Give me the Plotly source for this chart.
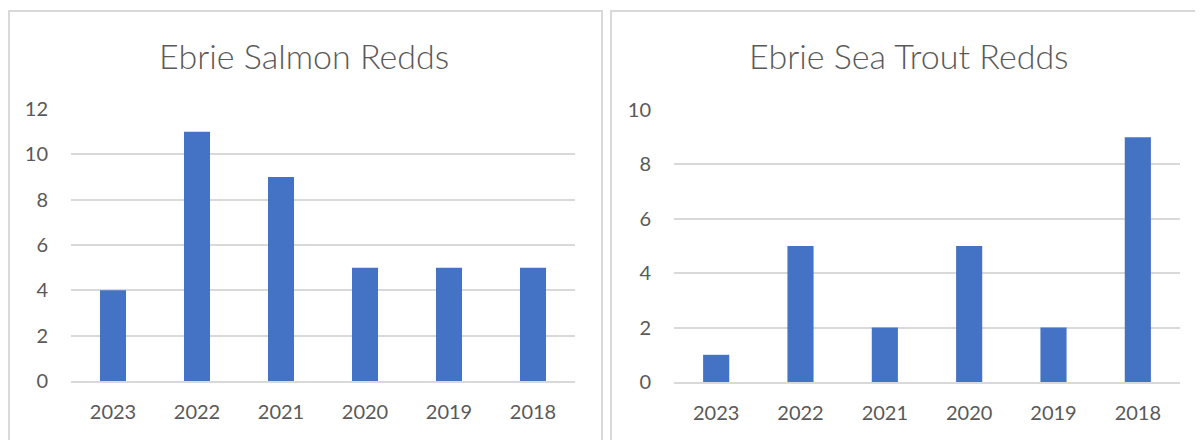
import plotly.graph_objects as go
from plotly.subplots import make_subplots

# Redd counts
years = ["2023", "2022", "2021", "2020", "2019", "2018"]
salmon_redds = [4, 11, 9, 5, 5, 5]
sea_trout_redds = [1, 5, 2, 5, 2, 9]

W, H = 1203, 440
OFF = 8  # page body margin
bar_blue = "#4472C4"
grey_text = "#595959"
grid_grey = "#D9D9D9"

def px_x(v):
    return (v - OFF) / W

def px_y(v):
    return 1 - (v - OFF) / H

fig = make_subplots(rows=1, cols=2)

fig.add_trace(go.Bar(x=years, y=salmon_redds, marker=dict(color=bar_blue, line=dict(width=0)),
                     width=0.31, hoverinfo="x+y"), row=1, col=1)
fig.add_trace(go.Bar(x=years, y=sea_trout_redds, marker=dict(color=bar_blue, line=dict(width=0)),
                     width=0.31, hoverinfo="x+y"), row=1, col=2)

axis_font = dict(family="Lato, 'Open Sans', sans-serif", size=20, color=grey_text)

fig.update_layout(
    width=W, height=H,
    margin=dict(l=0, r=0, t=0, b=0, autoexpand=False),
    paper_bgcolor="white", plot_bgcolor="white",
    showlegend=False,
    xaxis=dict(domain=[px_x(71), px_x(575)]),
    xaxis2=dict(domain=[px_x(674), px_x(1180)]),
    yaxis=dict(domain=[px_y(381), px_y(109)], range=[0, 12], dtick=2),
    yaxis2=dict(domain=[px_y(382), px_y(110)], range=[0, 10], dtick=2),
)
fig.update_xaxes(showgrid=False, showline=True, linecolor=grid_grey, linewidth=1.5,
                 ticks="", tickfont=axis_font, ticklabelstandoff=12, automargin=False,
                 fixedrange=True)
fig.update_yaxes(showgrid=True, gridcolor=grid_grey, gridwidth=1.5, zeroline=False,
                 showline=False, ticks="", tickfont=axis_font, ticklabelstandoff=22,
                 automargin=False, fixedrange=True)

# chart titles (lighter weight, like Calibri Light in Excel)
title_font = dict(family="Lato, 'Open Sans', sans-serif", size=34, color=grey_text, weight=300)
fig.add_annotation(text="Ebrie Salmon Redds", x=px_x(304), y=px_y(55), xref="paper", yref="paper",
                   showarrow=False, font=title_font, xanchor="center", yanchor="middle")
fig.add_annotation(text="Ebrie Sea Trout Redds", x=px_x(909), y=px_y(55), xref="paper", yref="paper",
                   showarrow=False, font=title_font, xanchor="center", yanchor="middle")

# light chart-area borders like the Excel charts
for x0, x1 in [(9, 602), (611, 1201)]:
    fig.add_shape(type="rect", xref="paper", yref="paper",
                  x0=px_x(x0), x1=px_x(x1), y0=px_y(470), y1=px_y(11),
                  line=dict(color=grid_grey, width=2), layer="below")

fig.write_html("out.html")
